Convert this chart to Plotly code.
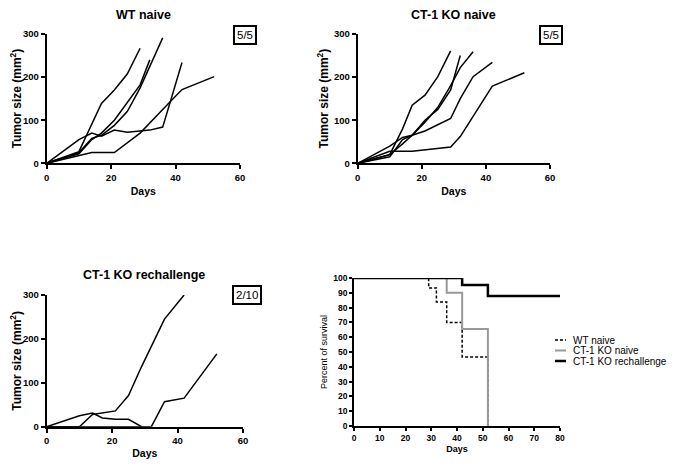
import plotly.graph_objects as go

# tumor growth, WT naive (days, mm2)
wt_days = [
    [0, 10, 17, 21, 25, 29],
    [0, 10, 14, 17, 21, 25, 29, 32, 36],
    [0, 10, 14, 17, 21, 25, 29, 32],
    [0, 10, 14, 17, 21, 25, 32, 36, 42],
    [0, 14, 21, 29, 36, 42, 52],
]
wt_size = [
    [0, 27, 139, 170, 207, 267],
    [0, 25, 58, 65, 88, 120, 175, 225, 291],
    [0, 22, 55, 70, 100, 140, 182, 240],
    [0, 55, 70, 63, 77, 72, 77, 84, 234],
    [0, 25, 25, 70, 125, 171, 201],
]

# tumor growth, CT-1 KO naive
ko_days = [
    [0, 10, 14, 17, 21, 25, 29],
    [0, 10, 14, 17, 21, 25, 29, 32],
    [0, 10, 14, 17, 21, 25, 29, 32, 36],
    [0, 10, 14, 17, 21, 25, 29, 32, 36, 42],
    [0, 10, 17, 29, 32, 36, 42, 52],
]
ko_size = [
    [0, 20, 80, 135, 158, 201, 261],
    [0, 15, 55, 65, 100, 125, 170, 250],
    [0, 20, 45, 65, 95, 130, 180, 222, 259],
    [0, 40, 60, 65, 75, 90, 104, 150, 201, 234],
    [0, 28, 28, 38, 62, 110, 179, 210],
]

# tumor growth, CT-1 KO rechallenge
re_days = [
    [0, 10, 14, 17, 21, 25, 29],
    [0, 10, 14, 21, 25, 29, 36, 42],
    [0, 32, 36, 42, 52],
]
re_size = [
    [0, 25, 31, 20, 17, 17, 0],
    [0, 0, 28, 36, 71, 137, 245, 300],
    [0, 0, 57, 65, 166],
]

# survival (%)
surv_names = ["WT naive", "CT-1 KO naive", "CT-1 KO rechallenge"]
surv_days = [
    [0, 29, 32, 36, 42, 52],
    [0, 36, 42, 52],
    [0, 42, 52, 80],
]
surv_pct = [
    [100, 93.3, 83.8, 70, 46.7, 0],
    [100, 90, 65.5, 0],
    [100, 95.2, 87.9, 87.9],
]

FONT = "Arial, Liberation Sans, sans-serif"
# the page body keeps its 8px margin, so the figure is 16px smaller than the window
W, H, OFF = 659, 451, 8


def px(x):
    return (x - OFF) / W


def py(y):
    return 1 - (y - OFF) / H


fig = go.Figure()

for days, size, ax in [(wt_days, wt_size, ""), (ko_days, ko_size, "2"), (re_days, re_size, "3")]:
    for d, s in zip(days, size):
        fig.add_trace(go.Scatter(x=d, y=s, mode="lines", xaxis="x" + ax, yaxis="y" + ax,
                                 line=dict(color="black", width=1.5), showlegend=False,
                                 cliponaxis=False))

surv_style = [dict(color="black", width=1.5, dash="3px,2px"),
              dict(color="#999999", width=2),
              dict(color="black", width=2.5)]
for name, d, p, st in zip(surv_names, surv_days, surv_pct, surv_style):
    fig.add_trace(go.Scatter(x=d, y=p, mode="lines", name=name, xaxis="x4", yaxis="y4",
                             line=dict(shape="hv", **st), cliponaxis=False, showlegend=False))

tumor_x = dict(range=[0, 60], tickvals=[0, 20, 40, 60], showgrid=False, zeroline=False,
               showline=True, linecolor="black", linewidth=2, ticks="outside", ticklen=4,
               tickwidth=2, tickcolor="black", automargin=False,
               tickfont=dict(family=FONT, size=9.5, color="black", weight="bold"),
               title=dict(text="<b>Days</b>", font=dict(family=FONT, size=10.5, color="black"),
                          standoff=6))
tumor_y = dict(range=[0, 300], tickvals=[0, 100, 200, 300], showgrid=False, zeroline=False,
               showline=True, linecolor="black", linewidth=2, ticks="outside", ticklen=4,
               tickwidth=2, tickcolor="black", automargin=False,
               tickfont=dict(family=FONT, size=9.5, color="black", weight="bold"),
               title=dict(text="<b>Tumor size (mm<sup>2</sup>)</b>",
                          font=dict(family=FONT, size=12, color="black"), standoff=3))

surv_tick = dict(family=FONT, size=8.5, color="black", weight="bold")

fig.update_layout(
    width=W, height=H, margin=dict(l=0, r=0, t=0, b=0),
    plot_bgcolor="white", paper_bgcolor="white",
    font=dict(family=FONT, color="black"),
    showlegend=False,
    xaxis=dict(tumor_x, domain=[px(46.7), px(240)], anchor="y"),
    yaxis=dict(tumor_y, domain=[py(163.3), py(34)], anchor="x"),
    xaxis2=dict(tumor_x, domain=[px(357.7), px(550)], anchor="y2"),
    yaxis2=dict(tumor_y, domain=[py(163.3), py(34)], anchor="x2"),
    xaxis3=dict(tumor_x, domain=[px(46.7), px(243)], anchor="y3"),
    yaxis3=dict(tumor_y, domain=[py(426.7), py(295)], anchor="x3"),
    xaxis4=dict(range=[0, 80], dtick=10, domain=[px(354), px(560)], anchor="y4",
                showgrid=False, zeroline=False, showline=True, linecolor="black", linewidth=1.5,
                ticks="outside", ticklen=3, tickwidth=1.5, tickcolor="black", automargin=False,
                tickfont=surv_tick,
                title=dict(text="<b>Days</b>", font=dict(family=FONT, size=9, color="black"),
                           standoff=4)),
    yaxis4=dict(range=[0, 100], dtick=10, domain=[py(426), py(278)], anchor="x4",
                showgrid=False, zeroline=False, showline=True, linecolor="black", linewidth=1.5,
                ticks="outside", ticklen=3, tickwidth=1.5, tickcolor="black", automargin=False,
                tickfont=surv_tick,
                title=dict(text="Percent of survival",
                           font=dict(family=FONT, size=9, color="black"), standoff=4)),
)

titles = [("WT naive", 143, 15), ("CT-1 KO naive", 453, 15), ("CT-1 KO rechallenge", 144, 275)]
for t, x, y in titles:
    fig.add_annotation(text="<b>" + t + "</b>", x=px(x), y=py(y), xref="paper", yref="paper",
                       xanchor="center", yanchor="middle", showarrow=False,
                       font=dict(family=FONT, size=12.5, color="black"))

boxes = [("5/5", 245, 35), ("5/5", 551, 35), ("2/10", 247, 295)]
for t, x, y in boxes:
    fig.add_annotation(text=t, x=px(x), y=py(y), xref="paper", yref="paper", showarrow=False,
                       xanchor="center", yanchor="middle",
                       font=dict(family=FONT, size=11.5, color="black"),
                       bordercolor="black", borderwidth=2, borderpad=2, bgcolor="white")

# legend for survival plot, drawn by hand to keep rows tight
for i, (name, st) in enumerate(zip(surv_names, surv_style)):
    ly = py(340 + 10.5 * i)
    fig.add_shape(type="line", xref="paper", yref="paper", x0=px(555), x1=px(566), y0=ly, y1=ly,
                  line=dict(color=st["color"], width=st["width"], dash=st.get("dash", "solid")))
    fig.add_annotation(text=name, x=px(571), y=ly, xref="paper", yref="paper", showarrow=False,
                       xanchor="left", yanchor="middle",
                       font=dict(family=FONT, size=10, color="black"))

fig.write_html("out.html")
